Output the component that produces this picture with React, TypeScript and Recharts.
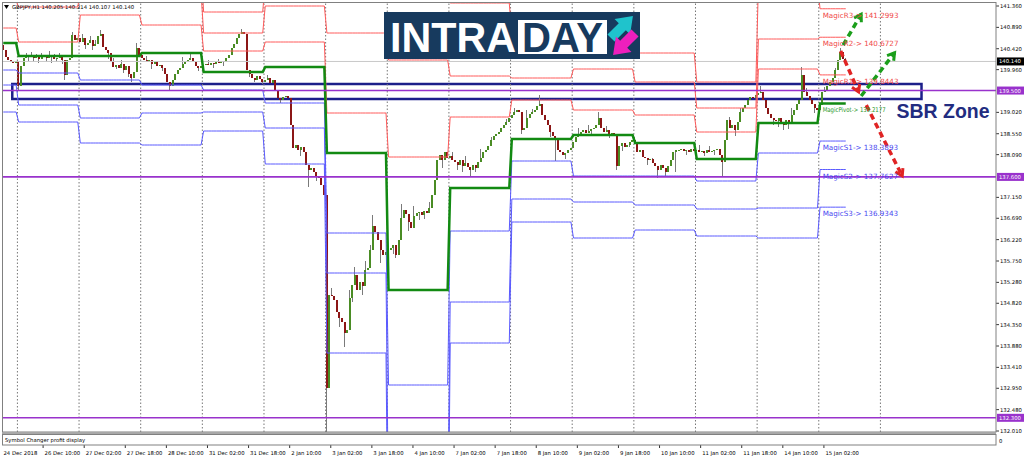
import {
	Bar,
	ComposedChart,
	Line,
	ReferenceArea,
	ReferenceDot,
	ReferenceLine,
	XAxis,
	YAxis,
} from "recharts"

// GBPJPY H1 closes, one per hourly bar (24 Dec 2018 -> 15 Jan 2019 10:00)
const closes = [
	// 24 Dec
	140.39, 140.24, 140.17, 140.13, 140.11, 140.15,
	// 26 Dec
	139.6, 140.04, 140.22, 140.26, 140.24, 140.28, 140.22, 140.24, 140.19, 140.26, 140.24, 140.22,
	140.28, 140.24, 140.19, 140.22, 140.26, 140.17, 139.84, 140.17, 140.22, 140.72, 140.61, 140.66,
	// 27 Dec
	140.57, 140.66, 140.5, 140.55, 140.61, 140.48, 140.52, 140.7, 140.74, 140.46, 140.39, 140.33,
	140.13, 140.02, 140.06, 140.0, 140.08, 139.95, 140.04, 139.86, 139.78, 139.91, 140.44, 140.28,
	// 28 Dec
	140.22, 140.17, 140.13, 140.17, 140.08, 140.13, 140.04, 140.06, 140.0, 139.86, 139.69, 139.6,
	139.73, 139.86, 139.95, 140.0, 140.08, 140.13, 140.17, 140.22, 140.13, 140.04, 140.0, 140.04,
	// 31 Dec
	140.06, 140.08, 140.06, 140.11, 140.08, 140.13, 140.11, 140.15, 140.13, 140.22, 140.28, 140.44,
	140.52, 140.66, 140.74, 140.79, 140.74, 139.95, 139.86, 139.78, 139.73, 139.82, 139.75, 139.69,
	// 2 Jan
	139.73, 139.78, 139.67, 139.73, 139.51, 139.34, 139.29, 139.36, 139.38, 139.34, 138.74, 138.24,
	138.3, 138.19, 138.26, 138.15, 137.86, 137.75, 137.8, 137.71, 137.62, 137.58, 137.42, 137.2,
	// 3 Jan
	132.96, 135.0, 134.98, 134.89, 134.63, 134.5, 134.41, 134.17, 134.23, 134.94, 135.22, 135.44,
	135.11, 135.28, 135.2, 135.55, 135.6, 135.99, 136.52, 136.39, 136.21, 135.99, 135.88, 135.95,
	// 4 Jan
	136.0, 136.04, 136.1, 135.88, 136.21, 136.7, 136.87, 136.78, 136.61, 136.48, 136.74, 136.81,
	136.83, 136.76, 136.85, 136.81, 136.92, 137.2, 137.53, 137.97, 138.08, 137.97, 138.15, 138.02,
	// 7 Jan
	138.06, 137.97, 137.93, 137.86, 137.97, 137.84, 137.91, 137.82, 137.75, 137.86, 137.8, 137.93,
	138.02, 138.15, 138.19, 138.28, 138.41, 138.5, 138.54, 138.59, 138.68, 138.74, 138.81, 138.9,
	// 8 Jan
	138.96, 139.03, 139.07, 139.03, 138.63, 138.68, 138.9, 138.98, 139.03, 139.07, 139.16, 139.2,
	138.96, 138.85, 138.74, 138.59, 138.5, 138.41, 138.19, 138.15, 138.08, 138.13, 138.19, 138.24,
	// 9 Jan
	138.37, 138.48, 138.54, 138.59, 138.63, 138.57, 138.61, 138.65, 138.68, 138.74, 138.9, 138.68,
	138.59, 138.63, 138.54, 138.57, 138.52, 137.84, 138.28, 138.35, 138.26, 138.3, 138.37, 138.41,
	// 10 Jan
	138.35, 138.15, 138.19, 138.04, 138.02, 137.97, 137.99, 137.91, 137.84, 137.75, 137.86, 137.8,
	137.71, 137.84, 137.97, 138.15, 138.19, 138.2, 138.22, 138.17, 138.19, 138.15, 138.21, 138.17,
	// 11 Jan
	138.19, 138.15, 138.17, 138.13, 138.19, 138.15, 138.17, 138.19, 138.21, 138.08, 137.93, 138.41,
	138.85, 138.68, 138.74, 138.63, 138.81, 139.03, 139.12, 139.18, 139.29, 139.36, 139.34, 139.4,
	// 14 Jan
	139.45, 139.47, 139.29, 139.12, 138.98, 138.9, 138.85, 138.83, 138.9, 138.81, 138.74, 138.85,
	138.79, 138.96, 139.07, 139.2, 139.29, 139.84, 139.47, 139.38, 139.29, 139.2, 139.12, 139.07,
	// 15 Jan
	139.18, 139.47, 139.51, 139.6, 139.69, 139.78, 139.95, 140.17, 140.35, 140.205, 140.14,
]
const firstOpen = 140.5

// wick extremes: [bar, price]
const highWicks: [number, number][] = [
	[9, 140.33], [11, 140.35], [13, 140.31], [15, 140.33], [18, 140.37], [20, 140.3], [22, 140.33],
	[27, 140.79], [31, 140.75], [34, 140.7], [36, 140.62], [38, 140.83], [43, 140.22], [46, 140.17],
	[52, 140.55], [56, 140.26], [60, 140.15], [70, 140.24], [73, 140.3],
	[80, 140.17], [84, 140.2], [90, 140.52], [93, 140.85], [103, 139.85], [113, 138.4],
	[128, 135.15], [135, 135.12], [137, 135.62], [141, 135.75], [143, 136.1], [144, 136.76],
	[155, 137.0], [160, 136.95], [166, 137.05], [169, 137.62],
	[175, 138.15], [180, 138.05], [186, 138.22], [190, 138.48], [196, 138.88],
	[199, 139.12], [204, 139.08], [206, 139.1], [209, 139.4],
	[224, 138.68], [228, 138.74], [232, 139.03], [235, 138.72], [246, 138.48], [253, 138.02],
	[271, 138.3], [275, 138.28], [283, 138.92], [287, 139.12],
	[295, 139.6], [298, 139.05], [307, 139.12], [311, 140.02], [313, 139.55],
	[320, 139.58], [324, 139.99], [326, 140.44], [328, 140.214],
]
const lowWicks: [number, number][] = [
	[6, 139.51], [10, 140.15], [12, 140.13], [14, 140.1], [17, 140.13], [19, 140.1], [21, 140.12],
	[23, 140.08], [24, 139.73], [32, 140.42], [35, 140.4], [41, 140.2], [44, 139.98], [47, 139.88],
	[49, 139.8], [50, 139.69], [58, 139.98], [62, 139.92], [65, 139.51], [67, 139.75], [76, 139.93],
	[82, 140.0], [86, 140.04], [96, 139.8], [98, 139.68], [101, 139.64],
	[108, 139.22], [116, 138.05], [119, 137.38], [122, 137.5],
	[126, 131.9], [131, 134.3], [133, 133.86], [136, 134.85], [140, 135.0], [147, 135.7],
	[152, 135.9], [153, 135.82], [158, 136.4], [162, 136.65], [164, 136.68], [171, 137.8],
	[177, 137.75], [179, 137.7], [182, 137.6], [184, 137.7],
	[202, 138.55], [213, 138.48], [215, 137.95], [219, 138.0],
	[222, 138.25], [229, 138.55], [236, 138.45], [239, 137.75], [241, 138.18], [244, 138.25],
	[251, 137.87], [255, 137.58], [258, 137.62], [262, 137.7], [266, 138.08],
	[273, 138.05], [277, 138.08], [280, 137.6], [285, 138.5],
	[300, 138.75], [302, 138.7], [304, 138.63], [306, 138.65], [316, 139.0],
	[318, 139.02], [328, 140.107],
]

// first bar of each trading day
const dayStarts = [0, 6, 30, 54, 78, 102, 126, 150, 174, 198, 222, 246, 270, 294, 318]
const dayBreaks = [6, 30, 54, 78, 102, 126, 150, 174, 198, 222, 246, 270, 294, 318, 342]

// daily "Magic" pivot levels, one per day
const r3Levels = [141.8, 141.71, 142.59, 142.26, 141.228, 141.91, 141.646, 143.1, 141.426, 140.7, 140.524, 140.326, 139.688, 141.822, 141.2993]
const r2Levels = [141.47, 141.338, 141.69, 141.646, 140.766, 141.36, 140.766, 140.172, 139.82, 139.776, 139.974, 139.688, 139.116, 140.634, 140.6727]
const r1Levels = [140.876, 140.568, 141.162, 140.942, 140.37, 140.568, 139.006, 138.038, 138.918, 139.292, 139.072, 138.962, 138.588, 139.974, 139.8443]
const pivotLevels = [140.546, 140.26, 140.26, 140.326, 139.908, 140.018, 138.126, 135.112, 137.356, 138.434, 138.522, 138.346, 137.994, 138.786, 139.2177]
const s1Levels = [139.952, 139.886, 139.732, 139.622, 139.512, 139.226, 136.366, 133.022, 136.41, 137.95, 137.62, 137.62, 137.51, 138.126, 138.3893]
const s2Levels = [139.622, 139.182, 138.896, 139.006, 139.028, 138.676, 135.486, 130.052, 134.848, 137.114, 137.048, 136.982, 136.894, 136.916, 137.7627]
const s3Levels = [139.028, 138.808, 138.346, 138.302, 138.61, 137.884, 133.726, 127.962, 133.946, 136.608, 136.256, 136.432, 136.3, 136.256, 136.9343]

const priceTicks = [141.36, 140.89, 140.42, 139.96, 139.02, 138.55, 138.09, 137.15, 136.69, 136.22, 135.75, 135.28, 134.82, 134.35, 133.88, 133.41, 132.95, 132.48, 132.01]
const timeTickBars = [0, 16, 32, 48, 64, 80, 96, 112, 128, 144, 160, 176, 192, 208, 224, 240, 256, 272, 288, 304, 320]
const timeTickLabels = [
	"24 Dec 2018", "26 Dec 10:00", "27 Dec 02:00", "27 Dec 18:00", "28 Dec 10:00", "31 Dec 02:00",
	"31 Dec 18:00", "2 Jan 10:00", "3 Jan 02:00", "3 Jan 18:00", "4 Jan 10:00", "7 Jan 02:00",
	"7 Jan 18:00", "8 Jan 10:00", "9 Jan 02:00", "9 Jan 18:00", "10 Jan 10:00", "11 Jan 02:00",
	"11 Jan 18:00", "14 Jan 10:00", "15 Jan 02:00",
]

const zoneLines = [139.5, 137.6, 132.3]
const lastPrice = 140.14
const sbrZone = { from: 4, to: 357, low: 139.314, high: 139.644 }

const BAR_COUNT = 387
const RED = "#ff5a5a"
const BLUE = "#5a5aff"
const GREEN = "#128a12"
const ORCHID = "#9932cc"
const AXIS_FONT = "DejaVu Sans"

const highMap = new Map(highWicks)
const lowMap = new Map(lowWicks)
const dayOf = (i: number) => {
	let d = 0
	dayStarts.forEach((s, k) => {
		if (i >= s) d = k
	})
	return d
}

const rows = Array.from({ length: BAR_COUNT }, (_, i) => {
	if (i >= closes.length) return { i }
	const open = i === 0 ? firstOpen : closes[i - 1]
	const close = closes[i]
	const top = Math.max(open, close)
	const bottom = Math.min(open, close)
	const d = dayOf(i)
	return {
		i,
		body: [bottom, top],
		wick: [Math.min(bottom, lowMap.get(i) ?? bottom), Math.max(top, highMap.get(i) ?? top)],
		up: close >= open,
		r3: r3Levels[d],
		r2: r2Levels[d],
		r1: r1Levels[d],
		p: pivotLevels[d],
		s1: s1Levels[d],
		s2: s2Levels[d],
		s3: s3Levels[d],
	}
})

const last = pivotLevels.length - 1
const magicLabels = [
	{ name: "MagicR3", value: r3Levels[last], color: "#f04a4a" },
	{ name: "MagicR2", value: r2Levels[last], color: "#f04a4a" },
	{ name: "MagicR1", value: r1Levels[last], color: "#f04a4a" },
	{ name: "MagicPivot", value: pivotLevels[last], color: "#1f961f", fit: 63 },
	{ name: "MagicS1", value: s1Levels[last], color: "#4a4af0" },
	{ name: "MagicS2", value: s2Levels[last], color: "#4a4af0" },
	{ name: "MagicS3", value: s3Levels[last], color: "#4a4af0" },
]

const arrows = [
	{ color: "#1b9e1b", from: [327, 140.5], to: [334, 141.18] },
	{ color: "#e02424", from: [326, 140.37], to: [333, 139.47] },
	{ color: "#1b9e1b", from: [334, 139.38], to: [347, 140.33] },
	{ color: "#e02424", from: [336, 139.18], to: [350, 137.62] },
]

const PriceTick = ({ x, y, payload }: any) => (
	<g>
		<line x1={x} x2={x + 3} y1={y} y2={y} stroke='#000' strokeWidth={0.8} />
		<text x={x + 4} y={y + 2} fontSize={5.3} fontFamily={AXIS_FONT} fill='#000'>
			{Number(payload.value).toFixed(3)}
		</text>
	</g>
)

const TimeTick = ({ x, y, payload }: any) => {
	const k = timeTickBars.indexOf(Number(payload.value))
	const x0 = x - 1.28
	return (
		<g>
			{k > 0 && <line x1={x0} x2={x0} y1={y + 13} y2={y + 16} stroke='#000' strokeWidth={0.8} />}
			<text x={x0 + 1.5} y={y + 23} fontSize={5.3} fontFamily={AXIS_FONT} fill='#000'>
				{timeTickLabels[k]}
			</text>
		</g>
	)
}

const axisBadge = (text: string, bg: string) => (props: any) => {
	const vb = props.viewBox
	const x = vb.x + vb.width + 1
	return (
		<g>
			<rect x={x} y={vb.y - 4} width={27} height={8} fill={bg} />
			<text x={x + 2} y={vb.y + 2} fontSize={5.3} fontFamily={AXIS_FONT} fill='#fff'>
				{text}
			</text>
		</g>
	)
}

const renderBody = (p: any) => {
	if (p.height == null || !p.payload || p.payload.body == null) return <g />
	const cx = p.x + p.width / 2
	return (
		<rect
			x={Math.round(cx - 1)}
			y={p.y}
			width={2}
			height={Math.max(1, p.height)}
			fill={p.payload.up ? "#4a8c24" : "#8c1616"}
			shapeRendering='crispEdges'
		/>
	)
}

const renderWick = (p: any) => {
	if (p.height == null || !p.payload || p.payload.wick == null) return <g />
	const cx = p.x + p.width / 2
	return (
		<rect
			x={Math.round(cx - 1)}
			y={p.y}
			width={1}
			height={Math.max(1, p.height)}
			fill='#7a7a7a'
			shapeRendering='crispEdges'
		/>
	)
}

const arrowShape = (color: string) => (p: any) => {
	const { x1, y1, x2, y2 } = p
	const a = Math.atan2(y2 - y1, x2 - x1)
	const h = 8
	const lx = x2 - h * Math.cos(a - 0.55)
	const ly = y2 - h * Math.sin(a - 0.55)
	const rx = x2 - h * Math.cos(a + 0.55)
	const ry = y2 - h * Math.sin(a + 0.55)
	return (
		<g>
			<line x1={x1} y1={y1} x2={x2} y2={y2} stroke={color} strokeWidth={3.5} strokeDasharray='6 4' />
			<polyline points={`${lx},${ly} ${x2},${y2} ${rx},${ry}`} stroke={color} strokeWidth={3} fill='none' />
		</g>
	)
}

const levelLine = (key: string, color: string, width = 1) => (
	<Line
		key={key}
		dataKey={key}
		stroke={color}
		strokeWidth={width}
		dot={false}
		activeDot={false}
		isAnimationActive={false}
		type='linear'
	/>
)

const Logo = () => (
	<g>
		<rect x={384} y={12} width={256} height={47} fill='#173a5e' />
		<text x={390} y={52} fontFamily='Liberation Sans' fontWeight={700} fontSize={43} fill='#fff' textLength={126} lengthAdjust='spacingAndGlyphs'>
			INTRA
		</text>
		<rect x={518} y={20} width={89} height={34} fill='#fff' />
		<text x={522} y={52} fontFamily='Liberation Sans' fontWeight={700} fontSize={43} fill='#173a5e' textLength={81} lengthAdjust='spacingAndGlyphs'>
			DAY
		</text>
		<polygon
			points='0,-5 16,-5 16,-11 31,0 16,11 16,5 0,5'
			fill='#1fc3cc'
			transform='translate(611,38) rotate(-45)'
		/>
		<polygon
			points='0,-5 16,-5 16,-11 31,0 16,11 16,5 0,5'
			fill='#ee1fbd'
			transform='translate(635,33) rotate(135)'
		/>
	</g>
)

export default function App() {
	return (
		<div style={{ position: "fixed", left: 0, top: 0, width: 1024, height: 459, background: "#fff", overflow: "hidden" }}>
			<ComposedChart width={1024} height={459} data={rows} margin={{ top: 2, right: 0, bottom: 0, left: 2 }}>
				<XAxis
					dataKey='i'
					type='category'
					ticks={timeTickBars}
					interval={0}
					height={27}
					tick={<TimeTick />}
					tickLine={false}
					axisLine={false}
					tickSize={0}
					tickMargin={0}
				/>
				<XAxis dataKey='i' type='category' xAxisId='w' hide />
				<YAxis
					orientation='right'
					width={28}
					domain={[131.988, 141.448]}
					allowDataOverflow
					ticks={priceTicks}
					interval={0}
					tick={<PriceTick />}
					tickLine={false}
					axisLine={false}
					tickSize={0}
					tickMargin={0}
				/>
				{dayBreaks.map((b) => (
					<ReferenceLine key={`d${b}`} x={b} position='start' stroke='#777' strokeDasharray='1.5 2' strokeWidth={1} />
				))}
				<ReferenceLine y={lastPrice} stroke='#c8c8c8' strokeWidth={1} label={axisBadge(lastPrice.toFixed(3), "#000")} />
				<Bar dataKey='wick' xAxisId='w' barSize={1} isAnimationActive={false} shape={renderWick} />
				<Bar dataKey='body' barSize={2} isAnimationActive={false} shape={renderBody} />
				{levelLine("r3", RED)}
				{levelLine("r2", RED)}
				{levelLine("r1", RED)}
				{levelLine("s1", BLUE)}
				{levelLine("s2", BLUE)}
				{levelLine("s3", BLUE)}
				{levelLine("p", GREEN, 2.5)}
				{zoneLines.map((v) => (
					<ReferenceLine key={`z${v}`} y={v} stroke={ORCHID} strokeWidth={1.6} label={axisBadge(v.toFixed(3), ORCHID)} />
				))}
				<ReferenceArea
					x1={sbrZone.from}
					x2={sbrZone.to}
					y1={sbrZone.low}
					y2={sbrZone.high}
					fill='none'
					fillOpacity={0}
					stroke='#1c1f8a'
					strokeWidth={2.5}
				/>
				{magicLabels.map((m) => (
					<ReferenceDot
						key={m.name}
						x={319}
						y={m.value}
						r={0}
						ifOverflow='visible'
						shape={(p: any) => (
							<text
								x={p.cx}
								y={p.cy + 9}
								fontSize={m.fit ? 6.6 : 7.2}
								fontFamily={AXIS_FONT}
								fill={m.color}
								textLength={m.fit}
								lengthAdjust={m.fit ? "spacingAndGlyphs" : undefined}
							>
								{`${m.name}-> ${m.value.toFixed(4)}`}
							</text>
						)}
					/>
				))}
				{arrows.map((a, k) => (
					<ReferenceLine
						key={`a${k}`}
						segment={[
							{ x: a.from[0], y: a.from[1] },
							{ x: a.to[0], y: a.to[1] },
						]}
						ifOverflow='visible'
						shape={arrowShape(a.color)}
					/>
				))}
				<ReferenceDot
					x={347}
					y={138.9}
					r={0}
					ifOverflow='visible'
					shape={(p: any) => (
						<text x={p.cx + 2} y={p.cy} fontSize={21} fontWeight={700} fontFamily='Liberation Sans' fill='#222c80' textLength={93} lengthAdjust='spacingAndGlyphs'>
							SBR Zone
						</text>
					)}
				/>
			</ComposedChart>
			<svg width={1024} height={459} style={{ position: "absolute", left: 0, top: 0, pointerEvents: "none" }}>
				<rect x={2.5} y={2.5} width={993.5} height={429.5} fill='none' stroke='#808080' strokeWidth={1} />
				<rect x={2} y={432} width={994} height={2} fill='#a8a8a8' />
				<rect x={2.5} y={434.5} width={993.5} height={10.5} fill='#fff' stroke='#808080' strokeWidth={1} />
				<text x={5} y={442} fontSize={5.3} fontFamily={AXIS_FONT} fill='#000'>
					Symbol Changer profit display
				</text>
				<text x={999} y={443} fontSize={5.3} fontFamily={AXIS_FONT} fill='#000'>
					0
				</text>
				<polygon points='4,5 9,5 6.5,9' fill='#000' />
				<text x={12} y={9} fontSize={5.3} fontFamily={AXIS_FONT} fill='#000'>
					GBPJPY,H1  140.205 140.214 140.107 140.140
				</text>
				<Logo />
			</svg>
		</div>
	)
}
